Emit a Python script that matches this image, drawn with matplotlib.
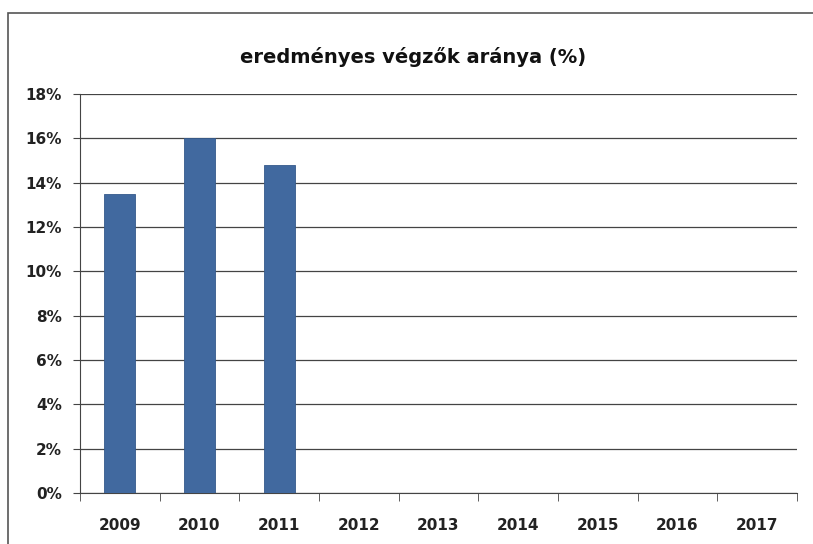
import matplotlib.pyplot as plt
from matplotlib.ticker import FuncFormatter
from matplotlib.patches import Rectangle

# data
years = ['2009', '2010', '2011', '2012', '2013', '2014', '2015', '2016', '2017']
rates = [0.135, 0.160, 0.148, 0, 0, 0, 0, 0, 0]
yticks = [0.00, 0.02, 0.04, 0.06, 0.08, 0.10, 0.12, 0.14, 0.16, 0.18]

fig = plt.figure(figsize=(8.13, 5.44), dpi=100)
ax = fig.add_axes([0.0984, 0.0938, 0.8819, 0.7334])

# outer chart border (only top and left visible in scan)
fig.patches.append(Rectangle((8 / 813, -0.1), 1.2, 1 - 13 / 544 + 0.1,
                             transform=fig.transFigure, fill=False,
                             edgecolor='#555555', linewidth=1.2))

x = list(range(len(years)))
ax.bar(x, rates, width=0.39, color='#41699f', edgecolor='#355a8c', linewidth=0.6, zorder=3)

ax.set_ylim(0, 0.18)
ax.set_xlim(-0.5, len(years) - 0.5)
ax.set_yticks(yticks)
ax.yaxis.set_major_formatter(FuncFormatter(lambda v, p: '%d%%' % round(v * 100)))
ax.grid(axis='y', color='#444444', linewidth=0.9, zorder=0)

ax.set_xticks(x)
ax.set_xticklabels(years)
ax.set_xticks([i - 0.5 for i in range(len(years) + 1)], minor=True)
ax.tick_params(axis='x', which='major', length=0, pad=18)
ax.tick_params(axis='x', which='minor', length=6, direction='out', color='#444444')
ax.tick_params(axis='y', length=5, direction='out', color='#444444', pad=8)

for lab in ax.get_xticklabels() + ax.get_yticklabels():
    lab.set_fontweight('bold')
    lab.set_fontsize(11)
    lab.set_color('#222222')

for s in ['top', 'right']:
    ax.spines[s].set_visible(False)
ax.spines['left'].set_color('#444444')
ax.spines['bottom'].set_color('#444444')

fig.text(0.508, 0.895, 'eredményes végzők aránya (%)', ha='center', va='center',
         fontsize=14, fontweight='bold', color='#111111')

fig.savefig('out.png', dpi=100)
